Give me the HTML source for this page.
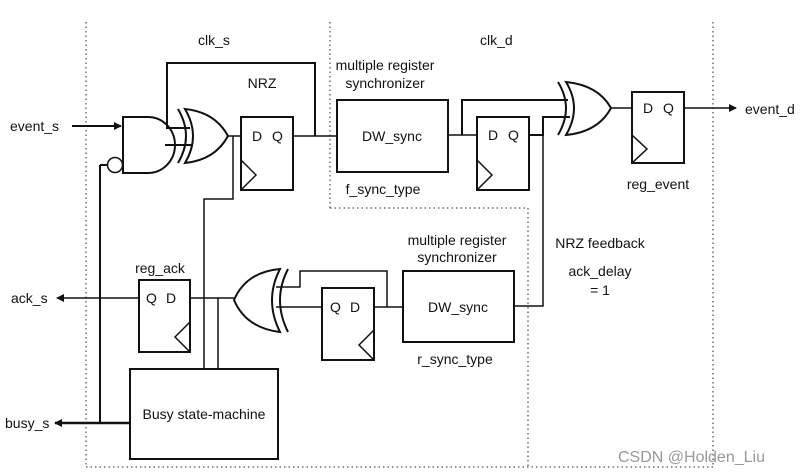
<!DOCTYPE html>
<html><head><style>
html,body{margin:0;padding:0;background:#fff;}
svg{display:block;}
text{font-family:"Liberation Sans",sans-serif;font-size:14px;fill:#111;}
</style></head><body>
<svg width="805" height="476" viewBox="0 0 805 476">
<defs>
<marker id="ar" markerWidth="8" markerHeight="8" refX="7" refY="4" orient="auto" markerUnits="userSpaceOnUse">
<path d="M0,0 L8,4 L0,8 z" fill="#111"/></marker>
</defs>
<g fill="none" stroke="#555" stroke-width="1.3" stroke-dasharray="1.5,3">
<line x1="86" y1="22" x2="86" y2="467"/>
<line x1="86" y1="467" x2="713" y2="467"/>
<line x1="713" y1="22" x2="713" y2="467"/>
<line x1="330" y1="22" x2="330" y2="208"/>
<line x1="330" y1="208" x2="528" y2="208"/>
<line x1="528" y1="208" x2="528" y2="467"/>
</g>
<g fill="none" stroke="#111" stroke-width="2">
<!-- boxes -->
<rect x="241" y="117" width="52" height="73"/>
<rect x="337" y="100" width="111" height="72"/>
<rect x="477" y="117" width="52" height="73"/>
<rect x="632" y="92" width="52" height="71"/>
<rect x="139" y="280" width="51" height="72"/>
<rect x="322" y="288" width="52" height="72"/>
<rect x="403" y="271" width="111" height="71"/>
<rect x="130" y="369" width="148" height="90"/>
<!-- clock triangles -->
<path d="M241,160 L256,175 L241,190" stroke-width="1.5"/>
<path d="M477,160 L492,175 L477,190" stroke-width="1.5"/>
<path d="M632,135 L647,149 L632,163" stroke-width="1.5"/>
<path d="M190,322 L175,337 L190,352" stroke-width="1.5"/>
<path d="M374,330 L359,345 L374,360" stroke-width="1.5"/>
<!-- AND gate -->
<path d="M123,117 L148,117 A27,28 0 0 1 148,173 L123,173 Z"/>
<circle cx="115" cy="165" r="7.5" stroke-width="1.5"/>
<!-- XOR1 -->
<path d="M178,109 Q194,136 178,163"/>
<path d="M185,109 Q201,136 185,163 Q215,160 228,136 Q215,112 185,109 Z"/>
<!-- XOR3 -->
<path d="M558,82 Q574,108 558,135"/>
<path d="M566,82 Q582,108 566,135 Q598,132 611,108 Q598,85 566,82 Z"/>
<!-- XOR2 reversed -->
<path d="M288,269 Q272,300 288,332"/>
<path d="M280,269 Q264,300 280,332 Q246,328 234,300 Q246,272 280,269 Z"/>
<!-- wires -->
<line x1="72" y1="126" x2="121" y2="126" marker-end="url(#ar)"/>
<line x1="100" y1="165" x2="107" y2="165"/>
<line x1="100" y1="165" x2="100" y2="423"/>
<line x1="130" y1="423" x2="55" y2="423" marker-end="url(#ar)" stroke-width="2.5"/>
<polyline points="190,128 167,128 167,63 315,63 315,136"/>
<line x1="165" y1="145" x2="192" y2="145"/>
<line x1="228" y1="136" x2="241" y2="136" stroke-width="1.5"/>
<polyline points="233,136 233,199 204,199 204,369" stroke-width="1.5"/>
<line x1="293" y1="136" x2="337" y2="136" stroke-width="1.5"/>
<line x1="448" y1="135" x2="477" y2="135" stroke-width="1.5"/>
<polyline points="462,135 462,100 568,100"/>
<polyline points="529,135 543,135 543,117 570,117"/>
<polyline points="543,135 543,306 514,306" stroke-width="1.5"/>
<line x1="611" y1="108" x2="632" y2="108" stroke-width="1.5"/>
<line x1="684" y1="108" x2="736" y2="108" marker-end="url(#ar)" stroke-width="1.5"/>
<line x1="139" y1="298" x2="57" y2="298" marker-end="url(#ar)" stroke-width="1.5"/>
<line x1="190" y1="298" x2="234" y2="298" stroke-width="1.5"/>
<line x1="218" y1="298" x2="218" y2="369" stroke-width="1.5"/>
<polyline points="276,287 300,287 300,271 387,271 387,307" stroke-width="1.5"/>
<line x1="276" y1="307" x2="322" y2="307" stroke-width="1.5"/>
<line x1="374" y1="307" x2="403" y2="307" stroke-width="1.5"/>
</g>
<g>
<text x="198" y="45">clk_s</text>
<text x="480" y="45">clk_d</text>
<text x="262" y="88" text-anchor="middle">NRZ</text>
<text x="385" y="70" text-anchor="middle">multiple register</text>
<text x="385" y="88" text-anchor="middle">synchronizer</text>
<text x="392" y="141" text-anchor="middle">DW_sync</text>
<text x="383" y="194" text-anchor="middle">f_sync_type</text>
<text x="252" y="141">D</text><text x="272" y="141">Q</text>
<text x="488" y="140">D</text><text x="508" y="140">Q</text>
<text x="643" y="113">D</text><text x="663" y="113">Q</text>
<text x="658" y="189" text-anchor="middle">reg_event</text>
<text x="745" y="114">event_d</text>
<text x="10" y="131">event_s</text>
<text x="11" y="303">ack_s</text>
<text x="5" y="428">busy_s</text>
<text x="160" y="273" text-anchor="middle">reg_ack</text>
<text x="146" y="303">Q</text><text x="166" y="303">D</text>
<text x="330" y="312">Q</text><text x="350" y="312">D</text>
<text x="458" y="312" text-anchor="middle">DW_sync</text>
<text x="457" y="245" text-anchor="middle">multiple register</text>
<text x="457" y="262" text-anchor="middle">synchronizer</text>
<text x="455" y="364" text-anchor="middle">r_sync_type</text>
<text x="204" y="419" text-anchor="middle">Busy state-machine</text>
<text x="600" y="248" text-anchor="middle">NRZ feedback</text>
<text x="600" y="276" text-anchor="middle">ack_delay</text>
<text x="600" y="295" text-anchor="middle">= 1</text>
<text x="618" y="462" style="font-size:16px;fill:#999">CSDN @Holden_Liu</text>
</g>
</svg>
</body></html>
